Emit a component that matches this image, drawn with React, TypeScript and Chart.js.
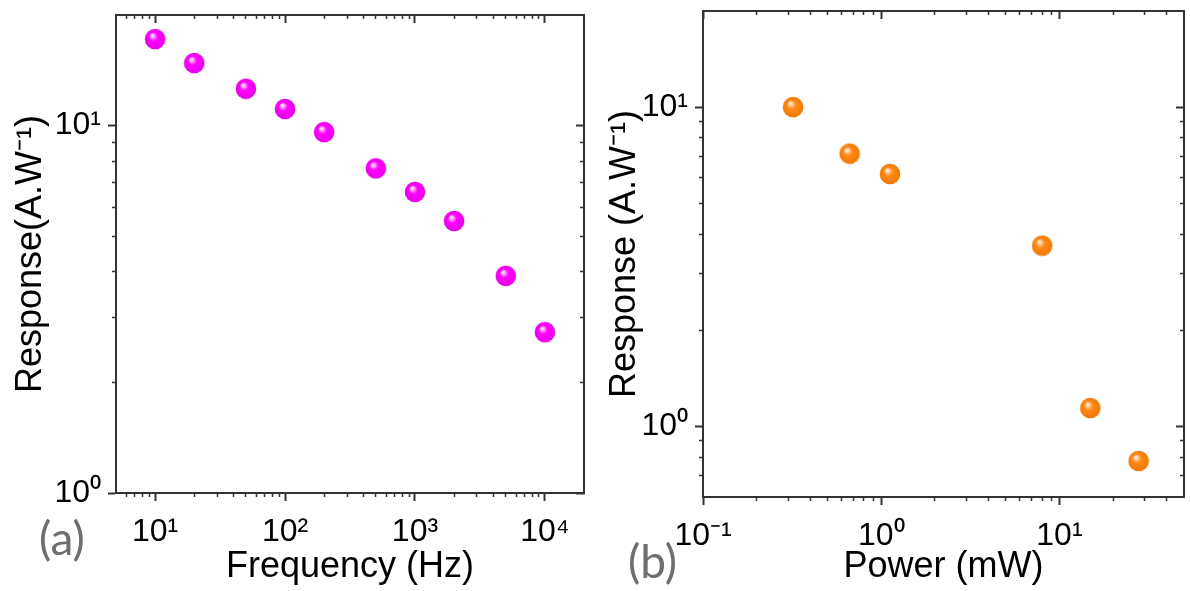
import React, { useEffect, useRef } from "react";
import { Chart, registerables } from "chart.js";

Chart.register(...registerables);

// ---------- data ----------
const freqHz = [10, 20, 50, 100, 200, 500, 1000, 2000, 5000, 10000];
const respFreq = [17.2, 14.8, 12.6, 11.1, 9.6, 7.65, 6.6, 5.5, 3.9, 2.74];

const powerMW = [0.32, 0.665, 1.12, 8.0, 14.9, 27.8];
const respPower = [10.0, 7.15, 6.17, 3.68, 1.14, 0.778];

// ---------- axes ----------
const freqRange = [5, 20000];
const respARange = [1, 20];
const powerRange = [0.1, 50];
const respBRange = [0.6, 20];

const freqMajorTicks = [10, 100, 1000, 10000];
const freqTickLabels = ["10¹", "10²", "10³", "10⁴"];
const respAMajorTicks = [1, 10];
const respATickLabels = ["10⁰", "10¹"];
const powerMajorTicks = [0.1, 1, 10];
const powerTickLabels = ["10⁻¹", "10⁰", "10¹"];
const respBMajorTicks = [1, 10];
const respBTickLabels = ["10⁰", "10¹"];

const FRAME = "#333333";
const FONT = "'Liberation Sans', Arial, sans-serif";

function minorTicksFor(min: number, max: number): number[] {
  const out: number[] = [];
  const e0 = Math.floor(Math.log10(min));
  const e1 = Math.ceil(Math.log10(max));
  for (let e = e0; e <= e1; e++) {
    for (let m = 2; m <= 9; m++) {
      const v = parseFloat((m * Math.pow(10, e)).toPrecision(6));
      if (v > min * 1.0001 && v < max * 0.9999) out.push(v);
    }
  }
  return out;
}

type AxisSpec = {
  axis: "x" | "y";
  position: "bottom" | "top" | "left" | "right";
  range: number[];
  majors: number[];
  labels: string[];
  inward: boolean;
  size: number;
  showLabels: boolean;
  title?: any;
};

function zeroPad(sc: any) {
  sc.paddingTop = 0;
  sc.paddingBottom = 0;
  sc.paddingLeft = 0;
  sc.paddingRight = 0;
}

function axisSet(id: string, s: AxisSpec) {
  const horiz = s.axis === "x";
  const minors = minorTicksFor(s.range[0], s.range[1]);
  const major: any = {
    type: "logarithmic",
    axis: s.axis,
    position: s.position,
    min: s.range[0],
    max: s.range[1],
    weight: 2,
    afterBuildTicks: (sc: any) => {
      sc.ticks = s.majors.map((v) => ({ value: v, major: true }));
    },
    afterFit: (sc: any) => {
      if (horiz) sc.height = s.size;
      else sc.width = s.size;
      zeroPad(sc);
    },
    grid: {
      display: true,
      drawOnChartArea: false,
      drawTicks: true,
      tickLength: s.inward ? -8 : 8,
      tickWidth: 2,
      tickColor: FRAME,
    },
    border: { display: true, color: FRAME, width: 2 },
    ticks: {
      display: s.showLabels,
      autoSkip: false,
      maxRotation: 0,
      minRotation: 0,
      padding: horiz ? 12 : 7,
      color: "#000000",
      font: { family: FONT, size: 32 },
      callback: (v: number) => {
        const i = s.majors.findIndex((m) => Math.abs(m - v) < m * 1e-6);
        return i >= 0 ? s.labels[i] : "";
      },
    },
    title: s.title || { display: false },
  };
  const minor: any = {
    type: "logarithmic",
    axis: s.axis,
    position: s.position,
    min: s.range[0],
    max: s.range[1],
    weight: 1,
    afterBuildTicks: (sc: any) => {
      sc.ticks = minors.map((v) => ({ value: v }));
    },
    afterFit: (sc: any) => {
      if (horiz) sc.height = 0;
      else sc.width = 0;
      zeroPad(sc);
    },
    grid: {
      display: true,
      drawOnChartArea: false,
      drawTicks: true,
      tickLength: s.inward ? -4 : 4,
      tickWidth: 1.5,
      tickColor: FRAME,
    },
    border: { display: false },
    ticks: { display: false, autoSkip: false },
    title: { display: false },
  };
  return { [id]: major, [id + "m"]: minor };
}

function makeSphere(color: string, dark: string, light: string): HTMLCanvasElement {
  const c = document.createElement("canvas");
  c.width = 22;
  c.height = 22;
  const g = c.getContext("2d")!;
  const grad = g.createRadialGradient(8, 7, 0, 11, 11, 10.5);
  grad.addColorStop(0, "#ffffff");
  grad.addColorStop(0.12, light);
  grad.addColorStop(0.42, color);
  grad.addColorStop(1, dark);
  g.fillStyle = grad;
  g.beginPath();
  g.arc(11, 11, 10.3, 0, Math.PI * 2);
  g.fill();
  return c;
}

type PanelProps = {
  xs: number[];
  ys: number[];
  xRange: number[];
  yRange: number[];
  xMajors: number[];
  xLabels: string[];
  yMajors: number[];
  yLabels: string[];
  xTitle: string;
  yTitle: string;
  color: string;
  dark: string;
  light: string;
  width: number;
  height: number;
  left: number;
  right: number;
  top: number;
  bottom: number;
  yTitlePad: number;
};

function Panel(p: PanelProps) {
  const ref = useRef<HTMLCanvasElement | null>(null);
  useEffect(() => {
    if (!ref.current) return;
    const sphere = makeSphere(p.color, p.dark, p.light);
    const scales = {
      ...axisSet("x", {
        axis: "x",
        position: "bottom",
        range: p.xRange,
        majors: p.xMajors,
        labels: p.xLabels,
        inward: false,
        size: p.bottom,
        showLabels: true,
        title: {
          display: true,
          text: p.xTitle,
          color: "#000000",
          font: { family: FONT, size: 36, lineHeight: 1.2 },
          padding: { top: 0, bottom: 2 },
        },
      }),
      ...axisSet("x2", {
        axis: "x",
        position: "top",
        range: p.xRange,
        majors: p.xMajors,
        labels: p.xLabels,
        inward: true,
        size: p.top,
        showLabels: false,
      }),
      ...axisSet("y", {
        axis: "y",
        position: "left",
        range: p.yRange,
        majors: p.yMajors,
        labels: p.yLabels,
        inward: false,
        size: p.left,
        showLabels: true,
        title: {
          display: true,
          text: p.yTitle,
          color: "#000000",
          font: { family: FONT, size: 36, lineHeight: 1.2 },
          padding: { top: p.yTitlePad, bottom: 0 },
        },
      }),
      ...axisSet("y2", {
        axis: "y",
        position: "right",
        range: p.yRange,
        majors: p.yMajors,
        labels: p.yLabels,
        inward: true,
        size: p.right,
        showLabels: false,
      }),
    };
    const chart = new Chart(ref.current, {
      type: "scatter",
      data: {
        datasets: [
          {
            data: p.xs.map((x, i) => ({ x, y: p.ys[i] })),
            pointStyle: sphere as any,
            pointRadius: 10,
            showLine: false,
            xAxisID: "x",
            yAxisID: "y",
          },
        ],
      },
      options: {
        animation: false,
        responsive: false,
        maintainAspectRatio: false,
        devicePixelRatio: 1,
        layout: { padding: 0 },
        plugins: { legend: { display: false }, tooltip: { enabled: false } },
        scales: scales as any,
      },
    });
    return () => chart.destroy();
  }, []);
  return (
    <canvas
      ref={ref}
      width={p.width}
      height={p.height}
      style={{ width: p.width, height: p.height, display: "block" }}
    />
  );
}

export default function App() {
  const tagStyle: React.CSSProperties = {
    position: "absolute",
    fontFamily: "Lato, 'Open Sans', sans-serif",
    fontSize: 46,
    lineHeight: "56px",
    color: "#6e6e6e",
  };
  return (
    <div
      style={{
        position: "fixed",
        left: 0,
        top: 0,
        width: 1190,
        height: 591,
        overflow: "hidden",
        background: "#ffffff",
      }}
    >
      <div style={{ position: "absolute", left: 0, top: 0 }}>
        <Panel
          xs={freqHz}
          ys={respFreq}
          xRange={freqRange}
          yRange={respARange}
          xMajors={freqMajorTicks}
          xLabels={freqTickLabels}
          yMajors={respAMajorTicks}
          yLabels={respATickLabels}
          xTitle="Frequency (Hz)"
          yTitle="Response(A.W⁻¹)"
          color="#ff00ff"
          dark="#e600e6"
          light="#ffc8ff"
          width={595}
          height={591}
          left={116}
          right={4}
          top={15}
          bottom={98}
          yTitlePad={9}
        />
      </div>
      <div style={{ position: "absolute", left: 595, top: 0 }}>
        <Panel
          xs={powerMW}
          ys={respPower}
          xRange={powerRange}
          yRange={respBRange}
          xMajors={powerMajorTicks}
          xLabels={powerTickLabels}
          yMajors={respBMajorTicks}
          yLabels={respBTickLabels}
          xTitle="Power (mW)"
          yTitle="Response (A.W⁻¹)"
          color="#ff8a1a"
          dark="#f07800"
          light="#ffe0c0"
          width={600}
          height={591}
          left={108}
          right={4}
          top={9}
          bottom={94}
          yTitlePad={8}
        />
      </div>
      <div style={{ ...tagStyle, left: 39, top: 510 }}>(a)</div>
      <div style={{ ...tagStyle, left: 628, top: 533 }}>(b)</div>
    </div>
  );
}
